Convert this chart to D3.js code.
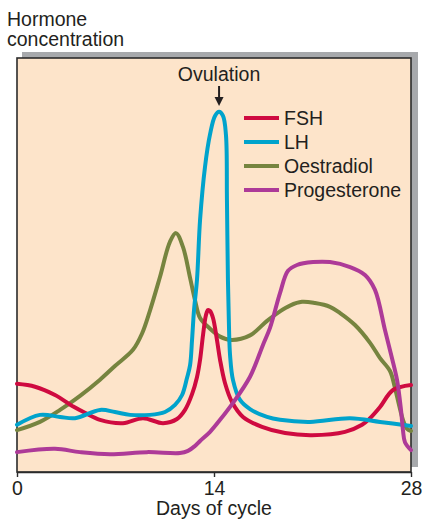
<!DOCTYPE html>
<html>
<head>
<meta charset="utf-8">
<script src="https://cdn.jsdelivr.net/npm/d3@7"></script>
<style>
  html, body { margin: 0; padding: 0; background: #ffffff; }
  svg { display: block; }
  text { font-family: "Liberation Sans", Arial, Helvetica, sans-serif; fill: #231f20; }
</style>
</head>
<body>
<svg id="chart" width="424" height="519"></svg>
<script>
// ---- Data (day of cycle, relative hormone concentration 0-100) ----
const fsh = [
  [0,21.3],[1.28,20.6],[2.70,18.6],[4.0,15.8],[4.83,14.3],[5.90,12.6],[7.53,11.8],
  [8.95,13.0],[10.38,11.8],[11.37,12.8],[11.94,15.0],[12.44,18.8],[12.79,22.9],
  [13.01,27.1],[13.22,33.1],[13.43,37.9],[13.57,39.1],[13.72,38.9],[13.93,37.2],
  [14.21,31.9],[14.43,27.1],[14.78,21.5],[15.28,16.9],[16.06,13.3],[17.41,10.9],
  [19.05,9.4],[20.97,8.9],[23.31,9.7],[24.52,11.4],[25.09,13.0],[25.80,15.7],
  [26.72,19.8],[28,21.0]
];
const lh = [
  [0,11.4],[1.63,13.8],[3.06,13.3],[4.12,13.0],[5.90,15.0],[6.96,14.5],[8.03,13.8],
  [9.45,13.8],[10.52,14.5],[11.23,16.2],[11.73,18.6],[12.08,22.7],[12.30,25.8],
  [12.44,31.9],[12.58,39.1],[12.79,46.4],[13.01,60.9],[13.36,73.7],[13.72,81.6],
  [14.07,86.0],[14.36,87.0],[14.64,86.0],[14.85,81.4],[14.92,65.7],[14.99,46.4],
  [15.07,34.3],[15.14,28.3],[15.35,22.2],[15.85,17.4],[16.56,15.2],[17.77,13.3],
  [18.69,12.6],[20.82,12.1],[23.67,13.0],[25.80,12.1],[28,11.1]
];
const oestradiol = [
  [0,10.1],[1.63,12.1],[3.06,15.0],[4.48,18.4],[5.90,22.3],[6.96,25.6],[8.24,29.5],
  [8.88,33.4],[9.45,39.0],[10.16,47.1],[10.87,55.6],[11.30,57.7],[11.80,54.3],
  [12.30,46.9],[12.65,41.5],[13.01,37.2],[13.72,34.6],[14.43,32.7],[15.21,31.9],
  [16.56,33.0],[17.77,36.5],[18.69,38.8],[19.40,40.2],[20.25,41.1],
  [21.18,40.8],[22.24,39.9],[22.96,38.4],[24.02,35.5],[25.09,31.2],[25.80,27.5],
  [26.51,24.4],[26.86,20.3],[27.15,16.2],[27.43,12.6],[27.72,10.4],[28,9.9]
];
const progesterone = [
  [0,4.8],[2.70,5.6],[4.48,4.8],[6.61,4.3],[9.24,4.8],[11.58,4.6],[12.15,5.1],
  [12.65,6.3],[13.01,7.5],[13.72,9.7],[14.43,12.6],[15.35,16.7],[16.56,23.0],
  [17.48,30.7],[17.98,34.8],[18.69,43.2],[19.26,48.6],[19.90,50.0],[21.04,50.7],
  [22.24,50.7],[23.67,49.5],[24.73,47.6],[25.44,44.0],[26.15,34.3],[26.65,27.5],
  [27.01,22.2],[27.29,15.0],[27.43,10.1],[27.57,7.2],[28,5.3]
];
const seriesNames = ["FSH", "LH", "Oestradiol", "Progesterone"];
const seriesColors = ["#cf0a40", "#00a3cc", "#76843f", "#ad3a98"];
const tickDays = [0, 14, 28];
const ovulationDay = 14.36;
const ovulationLabel = "Ovulation";
const yTitle = ["Hormone", "concentration"];
const xTitle = "Days of cycle";

// ---- Drawing ----
(function () {
const svg = d3.select("#chart");
const pLeft = 17, pRight = 411, pTop = 58, pBottom = 472;
const x = d3.scaleLinear().domain([0, 28]).range([pLeft, pRight]);
const y = d3.scaleLinear().domain([0, 100]).range([pBottom, pTop]);
const fontSize = "19.5px";

// grey shadow behind the panel
svg.append("rect")
  .attr("x", pLeft + 5).attr("y", pTop - 6)
  .attr("width", pRight - pLeft + 2).attr("height", pBottom - pTop + 1)
  .attr("fill", "#a7a9ac");

// panel
svg.append("rect")
  .attr("x", pLeft).attr("y", pTop)
  .attr("width", pRight - pLeft).attr("height", pBottom - pTop)
  .attr("fill", "#fde4ca")
  .attr("stroke", "#2b2b2b").attr("stroke-width", 1.6);

// curves
const line = d3.line()
  .x(d => x(d[0])).y(d => y(d[1]))
  .curve(d3.curveCatmullRom.alpha(0.5));
const allSeries = [fsh, lh, oestradiol, progesterone];
const drawOrder = [2, 0, 1, 3];
drawOrder.forEach(i => {
  svg.append("path")
    .datum(allSeries[i])
    .attr("d", line)
    .attr("fill", "none")
    .attr("stroke", seriesColors[i])
    .attr("stroke-width", 4)
    .attr("stroke-linejoin", "round")
    .attr("stroke-linecap", "round");
});

// x axis
const xAxis = d3.axisBottom(x).tickValues(tickDays).tickSize(5).tickSizeOuter(0).tickPadding(4)
  .tickFormat(d3.format("d"));
const gx = svg.append("g").attr("transform", `translate(0,${pBottom})`).call(xAxis);
gx.select(".domain").attr("stroke", "#2b2b2b").attr("stroke-width", 1.6);
gx.selectAll(".tick line").attr("stroke", "#2b2b2b").attr("stroke-width", 1.4);
gx.selectAll(".tick text")
  .style("font-family", "'Liberation Sans', Arial, sans-serif")
  .style("font-size", fontSize).attr("fill", "#231f20");

// x title
svg.append("text")
  .attr("x", x(14)).attr("y", 515)
  .attr("text-anchor", "middle")
  .style("font-size", fontSize)
  .text(xTitle);

// y title
svg.selectAll(".ytitle").data(yTitle).enter().append("text")
  .attr("class", "ytitle")
  .attr("x", 7).attr("y", (d, i) => 26 + i * 20)
  .style("font-size", fontSize)
  .text(d => d);

// ovulation label and arrow
const ox = x(ovulationDay);
svg.append("text")
  .attr("x", ox).attr("y", 81)
  .attr("text-anchor", "middle")
  .style("font-size", fontSize)
  .text(ovulationLabel);
svg.append("line")
  .attr("x1", ox).attr("x2", ox).attr("y1", 86).attr("y2", 99)
  .attr("stroke", "#231f20").attr("stroke-width", 2);
svg.append("path")
  .attr("d", `M${ox - 4.5},97 L${ox + 4.5},97 L${ox},106 Z`)
  .attr("fill", "#231f20");

// legend
const legend = svg.append("g");
seriesNames.forEach((name, i) => {
  const ly = 118 + i * 24;
  legend.append("line")
    .attr("x1", 244).attr("x2", 279).attr("y1", ly).attr("y2", ly)
    .attr("stroke", seriesColors[i]).attr("stroke-width", 4);
  legend.append("text")
    .attr("x", 284).attr("y", ly + 7)
    .style("font-size", fontSize)
    .text(name);
});
})();
</script>
</body>
</html>
